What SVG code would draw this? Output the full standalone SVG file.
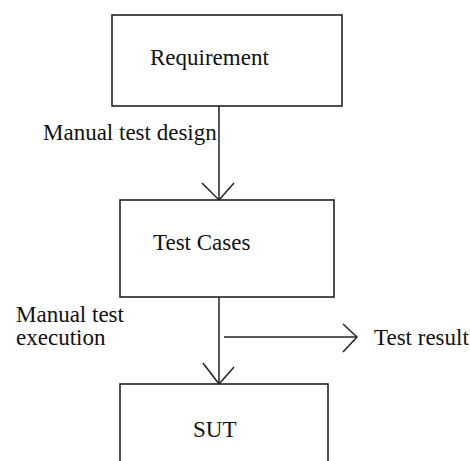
<svg xmlns="http://www.w3.org/2000/svg" width="470" height="461" viewBox="0 0 470 461">
<style>
.box{fill:#fff;stroke:#222;stroke-width:1.6}
.ln{fill:none;stroke:#222;stroke-width:1.5}
text{font-family:"Liberation Serif","Times New Roman",serif;font-size:23px;fill:#111}
</style>
<rect width="470" height="461" fill="#fff"/>
<g id="connectors">
<line class="ln" x1="219" y1="106" x2="219" y2="200"/>
<polyline class="ln" points="202,183 219,200 234,183"/>
<line class="ln" x1="219" y1="297" x2="219" y2="384"/>
<polyline class="ln" points="203,363 219,384 234,367"/>
<line class="ln" x1="224" y1="337" x2="357" y2="337"/>
<polyline class="ln" points="343,324 357,337 343,352"/>
</g>
<g id="requirement">
<rect class="box" x="112" y="15" width="230" height="91"/>
<text x="150" y="65">Requirement</text>
</g>
<g id="test-cases">
<rect class="box" x="120" y="200" width="214" height="97"/>
<text x="153" y="250">Test Cases</text>
</g>
<g id="sut">
<rect class="box" x="120" y="384" width="208" height="90"/>
<text x="193" y="437">SUT</text>
</g>
<g id="labels">
<text x="43" y="140">Manual test design</text>
<text x="16" y="322">Manual test</text>
<text x="16" y="345">execution</text>
<text x="374" y="345">Test result</text>
</g>
</svg>
